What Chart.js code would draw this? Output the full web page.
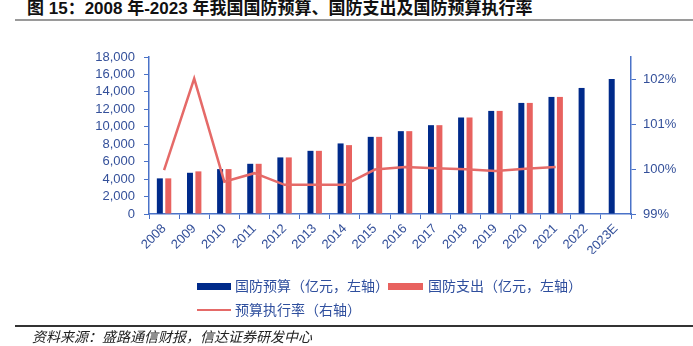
<!DOCTYPE html>
<html><head><meta charset="utf-8">
<script src="https://cdn.jsdelivr.net/npm/chart.js@4.4.0/dist/chart.umd.min.js"></script>
<style>
html,body{margin:0;padding:0;background:#fff;width:693px;height:346px;overflow:hidden;position:relative}
#title{position:absolute;left:27px;top:-1px;font:bold 17px "Liberation Sans","Noto Sans CJK SC",sans-serif;color:#111;white-space:nowrap;line-height:20px}
#tline{position:absolute;left:15px;right:0;top:19px;height:2px;background:#9a9a9a}
#c{position:absolute;left:0;top:0}
.leg{position:absolute;font:14px "Noto Sans CJK SC",sans-serif;color:#2F4F9E;white-space:nowrap;line-height:16px}
.sw{position:absolute}
#sline{position:absolute;left:15px;right:0;top:325px;height:1.5px;background:#333}
#src{position:absolute;left:32px;top:327px;font:italic 14px "Noto Sans CJK SC",sans-serif;color:#222;white-space:nowrap;line-height:18px}
</style></head>
<body>
<div id="title">图 15：2008 年-2023 年我国国防预算、国防支出及国防预算执行率</div>
<div id="tline"></div>
<canvas id="c" width="693" height="346"></canvas>
<div class="sw" style="left:197px;top:283px;width:34px;height:7px;background:#002A8A"></div>
<div class="leg" style="left:235px;top:277px">国防预算（亿元，左轴）</div>
<div class="sw" style="left:388px;top:283px;width:35px;height:7px;background:#E8625F"></div>
<div class="leg" style="left:428px;top:277px">国防支出（亿元，左轴）</div>
<div class="sw" style="left:197px;top:309px;width:34px;height:2px;background:#E56A68"></div>
<div class="leg" style="left:235px;top:301px">预算执行率（右轴）</div>
<div id="sline"></div>
<div id="src">资料来源：盛路通信财报，信达证券研发中心</div>
<script>
const categories = ['2008','2009','2010','2011','2012','2013','2014','2015','2016','2017','2018','2019','2020','2021','2022','2023E'];
const budget = [4085, 4726, 5149, 5756, 6488, 7243, 8090, 8845, 9498, 10184, 11065, 11820, 12736, 13423, 14452, 15482];
const expenditure = [4085, 4886, 5149, 5756, 6488, 7243, 7896, 8845, 9498, 10184, 11065, 11820, 12736, 13423, null, null];
const execRate = [99.98, 102.02, 99.72, 99.91, 99.65, 99.65, 99.65, 99.99, 100.05, 100.02, 100.0, 99.96, 100.01, 100.05, null, null];
const leftTickValues = [0, 2000, 4000, 6000, 8000, 10000, 12000, 14000, 16000, 18000];
const rightTickValues = [99, 100, 101, 102];

const axisColor = '#4A72C8';
const tickColor = '#34509A';
const tickFont = {family: '"Liberation Sans", Arial, sans-serif', size: 13};

new Chart(document.getElementById('c'), {
  data: {
    labels: categories,
    datasets: [
      {type: 'line', label: '预算执行率（右轴）', data: execRate, yAxisID: 'y1', borderColor: '#E56A68', borderWidth: 2.5, pointRadius: 0, tension: 0, fill: false, spanGaps: false},
      {type: 'bar', label: '国防预算（亿元，左轴）', data: budget, yAxisID: 'y', backgroundColor: '#002A8A', categoryPercentage: 0.56, barPercentage: 0.71},
      {type: 'bar', label: '国防支出（亿元，左轴）', data: expenditure, yAxisID: 'y', backgroundColor: '#E8625F', categoryPercentage: 0.56, barPercentage: 0.71}
    ]
  },
  options: {
    responsive: false,
    animation: false,
    devicePixelRatio: 1,
    layout: {padding: {left: 0, right: 0, top: 57, bottom: 92}},
    plugins: {legend: {display: false}, tooltip: {enabled: false}},
    scales: {
      x: {
        offset: true,
        grid: {display: true, drawOnChartArea: false, drawTicks: true, tickLength: 5, color: axisColor, offset: true},
        border: {color: axisColor, width: 1.5},
        ticks: {color: tickColor, font: tickFont, minRotation: 45, maxRotation: 45, padding: 2, autoSkip: false},
        afterFit: s => { s.height = 40; }
      },
      y: {
        position: 'left', min: 0, max: 18000,
        grid: {display: true, drawOnChartArea: false, drawTicks: true, tickLength: 5, color: axisColor},
        border: {color: axisColor, width: 1.5},
        ticks: {color: tickColor, font: tickFont, padding: 9, autoSkip: false, callback: v => v.toLocaleString('en-US')},
        afterBuildTicks: s => { s.ticks = leftTickValues.map(v => ({value: v})); },
        afterFit: s => { s.width = 149; }
      },
      y1: {
        position: 'right', min: 99, max: 102.5,
        grid: {display: true, drawOnChartArea: false, drawTicks: true, tickLength: 5, color: axisColor},
        border: {color: axisColor, width: 1.5},
        ticks: {color: tickColor, font: tickFont, padding: 7, autoSkip: false, callback: v => v + '%'},
        afterBuildTicks: s => { s.ticks = rightTickValues.map(v => ({value: v})); },
        afterFit: s => { s.width = 62; }
      }
    }
  }
});
</script>
</body></html>
